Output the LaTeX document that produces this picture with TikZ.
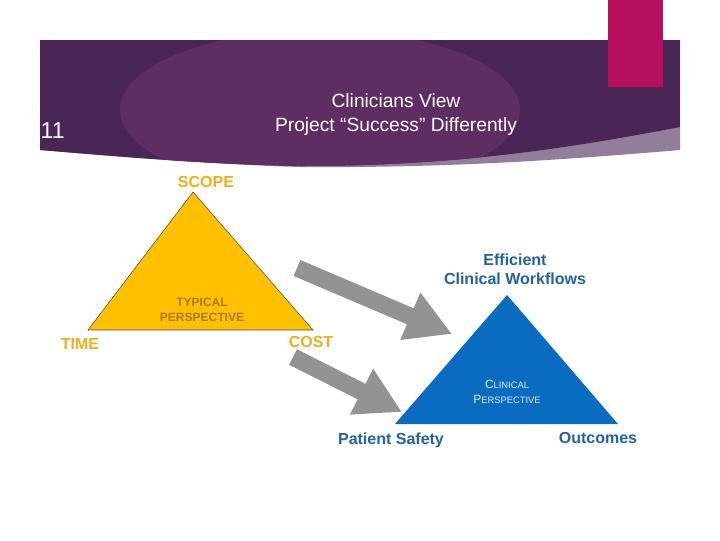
\documentclass[tikz,border=0pt]{standalone}
\usepackage{fontspec}
\setmainfont{Liberation Sans}
\usetikzlibrary{positioning,arrows.meta}
\definecolor{band}{HTML}{4A2656}
\definecolor{bandglow}{HTML}{5E2D62}
\definecolor{magenta}{HTML}{B5115F}
\definecolor{gold}{HTML}{FFC000}
\definecolor{goldtext}{HTML}{F0AE1C}
\definecolor{blueclin}{HTML}{0A6CC0}
\definecolor{bluetext}{HTML}{1F63A8}
\tikzset{
  goldlabel/.style={text=goldtext, font=\bfseries\large},
  bluelabel/.style={text=bluetext, font=\bfseries\large, align=center},
  bigarrow/.style={-{Triangle[length=34pt,width=36pt]}, line width=13pt, draw=gray!85}
}
\begin{document}
\begin{tikzpicture}[x=0.75pt, y=-0.75pt]
    \useasboundingbox (0,0) rectangle (720,540);
    \fill[white] (0,0) rectangle (720,540);
    % header band
    \fill[band!60] (40,40) -- (680,40) -- (680,150) .. controls (560,160) and (450,168) .. (300,167) .. controls (200,164) and (100,155) .. (40,150) -- cycle;
    \begin{scope}
      \clip (40,40) -- (680,40) -- (680,127) .. controls (560,150) and (450,166) .. (300,166) .. controls (200,164) and (100,155) .. (40,150) -- cycle;
      \fill[band] (40,40) rectangle (680,170);
      \fill[bandglow] (320,110) ellipse (200 and 80);
    \end{scope}
    \fill[magenta] (608,0) rectangle (663,87);
    \node (num) [text=white, font=\LARGE, anchor=west] at (36,131) {11};
    \node (title) [text=white, font=\Large, align=center] at (396,115) {Clinicians View\\Project “Success” Differently};
    % typical triangle
    \coordinate (ytop) at (193,192);
    \coordinate (yleft) at (88,330);
    \coordinate (yright) at (313,330);
    \filldraw[fill=gold, draw=black!70] (ytop) -- (yleft) -- (yright) -- cycle;
    \node (scope) [goldlabel] at (206,182) {SCOPE};
    \node (typical) [text=goldtext!70!black, font=\bfseries\small, align=center] at (202,310) {TYPICAL\\PERSPECTIVE};
    \node (time) [goldlabel] at (80,344) {TIME};
    \node (cost) [goldlabel] at (311,342) {COST};
    % clinical triangle
    \coordinate (btop) at (507,295);
    \coordinate (bleft) at (395,424);
    \coordinate (bright) at (618,424);
    \fill[blueclin] (btop) -- (bleft) -- (bright) -- cycle;
    \node (workflows) [bluelabel] at (515,269) {Efficient\\Clinical Workflows};
    \node (clinical) [text=white!85!blueclin, font=\small, align=center] at (507,392) {C{\scriptsize LINICAL}\\P{\scriptsize ERSPECTIVE}};
    \node (safety) [bluelabel] at (391,440) {Patient Safety};
    \node (outcomes) [bluelabel] at (598,438) {Outcomes};
    % arrows
    \coordinate (a1s) at (297,268);
    \coordinate (a1e) at (452,334);
    \coordinate (a2s) at (293,357);
    \coordinate (a2e) at (402,412);
    \draw[bigarrow] (a1s) -- (a1e);
    \draw[bigarrow] (a2s) -- (a2e);
\end{tikzpicture}
\end{document}
